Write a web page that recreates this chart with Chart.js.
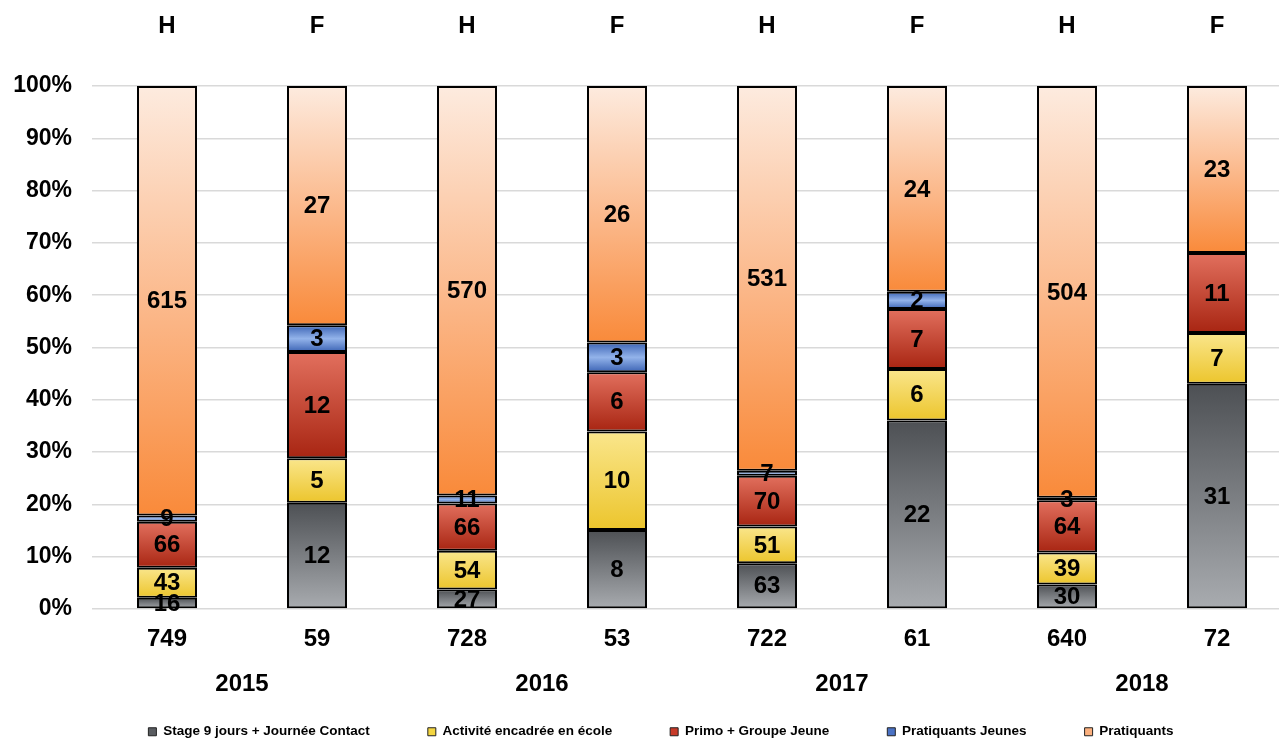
<!DOCTYPE html>
<html><head><meta charset="utf-8">
<script src="https://cdn.jsdelivr.net/npm/chart.js@4"></script>
<style>html,body{margin:0;padding:0;overflow:hidden;background:#fff}
#wrap{width:1300px;height:738px}</style></head>
<body><div id="wrap"><canvas id="c" width="1300" height="738"></canvas></div>
<script>
// ---- data ----
const sexLabels = ['H','F','H','F','H','F','H','F'];
const totalLabels = ['749','59','728','53','722','61','640','72'];
const yearLabels = ['2015', '2016', '2017', '2018'];
const seriesNames = ['Stage 9 jours + Journée Contact','Activité encadrée en école','Primo + Groupe Jeune','Pratiquants Jeunes','Pratiquants'];
const stage       = [16, 12, 27, 8, 63, 22, 30, 31];
const activite    = [43, 5, 54, 10, 51, 6, 39, 7];
const primo       = [66, 12, 66, 6, 70, 7, 64, 11];
const pratJeunes  = [9, 3, 11, 3, 7, 2, 3, 0];
const pratiquants = [615, 27, 570, 26, 531, 24, 504, 23];
const yTickValues = [0,10,20,30,40,50,60,70,80,90,100];

const counts = [stage, activite, primo, pratJeunes, pratiquants];
const totals = stage.map((_, i) => counts.reduce((s, a) => s + a[i], 0));
const pct = arr => arr.map((v, i) => v / totals[i] * 100);

const FONT = '"Liberation Sans", Arial, sans-serif';
const gradStops = [
  [[0,'#4d5054'],[1,'#a9acb0']],
  [[0,'#fae68c'],[1,'#ecc52c']],
  [[0,'#e2705e'],[1,'#a82512']],
  [[0,'#3b63b4'],[0.5,'#93b3ea'],[1,'#3b63b4']],
  [[0,'#fdebdf'],[0.55,'#fbb585'],[1,'#f98a3a']]
];
const legendColors = ['#595c60','#f3d540','#c83a28','#4a72c4','#fbb07e'];

function grad(stops){
  return (c) => {
    const chart = c.chart;
    if (c.type !== 'data' || !chart.chartArea || !chart.scales.y) return stops[stops.length-1][1];
    const di = c.datasetIndex, i = c.dataIndex;
    let start = 0;
    for (let k = 0; k < di; k++) start += chart.data.datasets[k].data[i];
    const v = chart.data.datasets[di].data[i];
    const ys = chart.scales.y;
    const top = ys.getPixelForValue(start + v), bot = ys.getPixelForValue(start);
    if (!(bot - top > 0.5)) return stops[0][1];
    const g = chart.ctx.createLinearGradient(0, top, 0, bot);
    stops.forEach(s => g.addColorStop(s[0], s[1]));
    return g;
  };
}

const datasets = counts.map((arr, k) => ({
  label: seriesNames[k],
  data: pct(arr),
  counts: arr,
  backgroundColor: grad(gradStops[k]),
  borderColor: '#000',
  borderWidth: 2,
  borderSkipped: false,
  categoryPercentage: 1,
  barPercentage: 0.4
}));

const segLabels = {
  id: 'segLabels',
  afterDatasetsDraw(chart){
    const ctx = chart.ctx;
    ctx.save();
    ctx.font = 'bold 24px ' + FONT;
    ctx.fillStyle = '#000';
    ctx.textAlign = 'center';
    ctx.textBaseline = 'middle';
    chart.data.datasets.forEach((ds, di) => {
      const meta = chart.getDatasetMeta(di);
      meta.data.forEach((el, i) => {
        const v = ds.counts[i];
        if (!v) return;
        ctx.fillText(String(v), el.x, (el.y + el.base) / 2 + 1);
      });
    });
    ctx.restore();
  }
};

const LEG_PAD = 58;
const LEG_H = 20;
// legend items are drawn at (top + padding); raise the box top so items sit at y≈725
const shiftLegend = {
  id: 'shiftLegend',
  afterLayout(chart){
    const lg = chart.legend;
    if (lg) {
      const dy = (738 - 13) - (lg.top + LEG_PAD);
      lg.top += dy;
      lg.bottom = 738;
      lg.left += 15; lg.right += 15;
    }
  }
};

const tickFont = { size: 24, weight: 'bold', family: FONT };
new Chart(document.getElementById('c'), {
  type: 'bar',
  data: { labels: totalLabels, datasets },
  options: {
    responsive: false,
    animation: false,
    events: [],
    layout: { padding: { left: 0, right: 8, top: 0, bottom: 0 } },
    plugins: {
      tooltip: { enabled: false },
      legend: {
        position: 'bottom',
        maxHeight: LEG_H,
        labels: {
          font: { size: 13.5, weight: 'bold', family: FONT },
          color: '#000',
          boxWidth: 8, boxHeight: 8,
          padding: LEG_PAD,
          generateLabels: () => seriesNames.map((n, k) => ({
            text: n, fillStyle: legendColors[k], strokeStyle: '#222', lineWidth: 1, datasetIndex: k, hidden: false
          }))
        }
      }
    },
    scales: {
      x: {
        type: 'category', position: 'bottom', stacked: true, weight: 0,
        grid: { display: false }, border: { display: false },
        ticks: { color: '#000', font: tickFont, padding: 7.5, maxRotation: 0, autoSkip: false },
        afterFit: s => { s.height = 41; }
      },
      xYear: {
        type: 'category', labels: yearLabels, offset: true, position: 'bottom', weight: 1,
        grid: { display: false }, border: { display: false },
        ticks: { color: '#000', font: tickFont, padding: 12, maxRotation: 0, autoSkip: false },
        afterFit: s => { s.height = 738 - LEG_H - 609 - 41; }
      },
      xTop: {
        type: 'category', labels: sexLabels, position: 'top',
        grid: { display: false }, border: { display: false },
        ticks: { color: '#000', font: tickFont, padding: 37, maxRotation: 0, autoSkip: false },
        afterFit: s => { s.height = 86; }
      },
      y: {
        stacked: true, min: 0, max: 100,
        afterBuildTicks: s => { s.ticks = yTickValues.map(v => ({ value: v })); },
        ticks: { color: '#000', font: { size: 23, weight: 'bold', family: FONT }, padding: 20, callback: v => v + '%' },
        grid: { color: '#d9d9d9', lineWidth: 1.5, drawTicks: false },
        border: { display: false },
        afterFit: s => { s.width = 92; }
      }
    }
  },
  plugins: [segLabels, shiftLegend]
});
</script>
</body></html>
